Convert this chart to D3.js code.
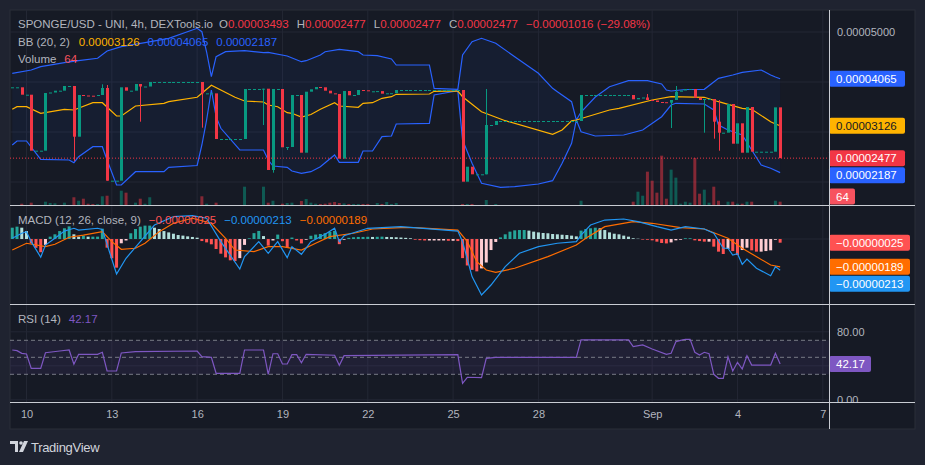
<!DOCTYPE html>
<html>
<head>
<meta charset="utf-8">
<script src="https://cdn.jsdelivr.net/npm/d3@7"></script>
<style>
  html, body { margin: 0; background: #1f2330; }
  svg { display: block; font-family: "Liberation Sans", Arial, sans-serif; }
</style>
</head>
<body>
<div id="chart"></div>
<script>
// prices are kept in units of 1e-8 USD, bars are 4h, index 0 = Aug 9 2023 12:00 UTC (t = -3)
const UNIT = 1e-8;
const T0 = -3;

const opens = [
  3894, 3894, 3894, 3746, 3746, 2626, 2626, 2626, 3780, 3790,
  3826, 3826, 3920, 3920, 2906, 3740, 3730, 3726, 3722, 3740,
  3880, 2026, 2026, 2026, 3894, 3826, 3826, 3960, 3910, 3910,
  4000, 4000, 4000, 4000, 4000, 4000, 4000, 4000, 4000, 4000,
  4000, 3773, 3773, 3773, 2860, 2860, 2860, 2860, 2860, 2860,
  3860, 3860, 3860, 3860, 3866, 2240, 3860, 3860, 2694, 2700,
  3740, 3740, 2586, 3806, 3854, 3900, 3894, 3826, 3773, 3760,
  2466, 3820, 3734, 3740, 3840, 3834, 3814, 3814, 3818, 3766,
  3774, 3776, 3840, 3840, 3840, 3840, 3840, 3840, 3840, 3840,
  3840, 3840, 3840, 3840, 3840, 3840, 2006, 2306, 2154, 2154,
  2154, 3140, 3140, 3220, 3220, 3220, 3220, 3220, 3220, 3220,
  3220, 3220, 3220, 3220, 3220, 3220, 3220, 3220, 3220, 3220,
  3220, 3740, 3740, 3740, 3740, 3740, 3740, 3740, 3740, 3740,
  3740, 3740, 3654, 3680, 3690, 3640, 3630, 3600, 3596, 3586,
  3640, 3806, 3830, 3860, 3860, 3686, 3640, 3660, 3660, 3206,
  2986, 2986, 3560, 2766, 3174, 2586, 3500, 2606, 2606, 2606,
  2606, 2606, 3493
];
const closes = [
  3894, 3894, 3746, 3746, 2626, 2626, 2626, 3780, 3790, 3826,
  3826, 3920, 3920, 2906, 3740, 3730, 3726, 3722, 3740, 3880,
  2026, 2026, 2026, 3894, 3826, 3826, 3960, 3910, 3910, 4000,
  4000, 4000, 4000, 4000, 4000, 4000, 4000, 4000, 4000, 4000,
  3773, 3773, 3773, 2860, 2860, 2860, 2860, 2860, 2860, 3860,
  3860, 3860, 3860, 3866, 2240, 3860, 3860, 2694, 2700, 3740,
  3740, 2586, 3806, 3854, 3900, 3894, 3826, 3773, 3760, 2466,
  3820, 3734, 3740, 3840, 3834, 3814, 3814, 3818, 3766, 3774,
  3776, 3840, 3840, 3840, 3840, 3840, 3840, 3840, 3840, 3840,
  3840, 3840, 3840, 3840, 3840, 2006, 2306, 2154, 2154, 2154,
  3140, 3140, 3220, 3220, 3220, 3220, 3220, 3220, 3220, 3220,
  3220, 3220, 3220, 3220, 3220, 3220, 3220, 3220, 3220, 3220,
  3740, 3740, 3740, 3740, 3740, 3740, 3740, 3740, 3740, 3740,
  3740, 3654, 3680, 3690, 3640, 3630, 3600, 3596, 3586, 3640,
  3806, 3830, 3860, 3860, 3686, 3640, 3660, 3660, 3206, 2986,
  2986, 3560, 2766, 3174, 2586, 3500, 2606, 2606, 2606, 2606,
  2606, 3493, 2477
];
// [t, high, low] for bars with visible wicks
const wicks = [
  [10, 3920, 2420], [16, 3954, 3740], [17, 3940, 2026], [24, 3960, 3206],
  [37, 4000, 3086], [50, 3866, 3140], [52, 3860, 2186], [55, 2700, 2640],
  [97, 3860, 2154], [131, 3760, 3640], [136, 3640, 3080], [137, 3920, 3640],
  [143, 3660, 2986], [145, 3660, 2866], [146, 3640, 2626]
];
const volumes = [
  0, 0, 25, 0, 45, 0, 0, 64, 39, 33,
  0, 45, 0, 150, 83, 122, 25, 20, 20, 169,
  180, 0, 0, 277, 239, 0, 45, 122, 25, 150,
  0, 0, 0, 0, 0, 0, 0, 0, 0, 0,
  169, 25, 0, 45, 0, 0, 0, 0, 0, 355,
  0, 0, 0, 355, 45, 83, 0, 25, 39, 45,
  0, 78, 116, 45, 25, 20, 25, 45, 58, 39,
  30, 20, 20, 20, 20, 20, 0, 39, 20, 58,
  20, 39, 0, 0, 0, 0, 0, 0, 0, 0,
  0, 0, 0, 0, 0, 20, 20, 20, 0, 0,
  97, 0, 20, 0, 0, 0, 0, 0, 0, 0,
  0, 0, 0, 0, 0, 0, 0, 0, 0, 0,
  83, 0, 0, 0, 0, 0, 0, 0, 0, 0,
  0, 64, 258, 180, 646, 471, 239, 956, 122, 685,
  530, 25, 64, 45, 912, 219, 297, 45, 355, 83,
  0, 64, 64, 25, 25, 64, 64, 0, 0, 0,
  0, 83, 64
];
// Bollinger bands (20, 2), read as [t, price]
const bbUpper = [
  [-3, 4174], [1, 4240], [3, 4306], [8, 4386], [11, 4426], [15, 4474], [17, 4620],
  [20, 4706], [25, 4786], [30, 4874], [36, 5074], [37, 5006], [38, 4600], [39, 4106],
  [40, 4506], [42, 4606], [46, 4626], [50, 4586], [51, 4594], [55, 4520], [58, 4406],
  [59, 4426], [62, 4540], [63, 4606], [66, 4654], [70, 4606], [71, 4540], [74, 4526],
  [77, 4460], [78, 4340], [85, 4340], [86, 3874], [91, 3854], [92, 4540], [94, 4806],
  [96, 4874], [99, 4774], [103, 4506], [108, 4174], [111, 3874], [112, 3806],
  [115, 3606], [116, 3240], [117, 3400], [120, 3700], [123, 3906], [127, 4026],
  [131, 4026], [134, 3960], [135, 3840], [136, 3820], [139, 3850], [143, 3854],
  [146, 4074], [149, 4140], [151, 4194], [155, 4240], [157, 4140], [158, 4100], [159, 4065]
];
const bbBasis = [
  [-3, 3454], [-2, 3506], [0, 3506], [3, 3374], [8, 3454], [10, 3440], [14, 3586],
  [16, 3586], [19, 3320], [20, 3320], [23, 3520], [29, 3574], [30, 3606], [36, 3694],
  [37, 3774], [39, 3934], [44, 3694], [46, 3620], [50, 3600], [51, 3540], [53, 3506],
  [55, 3386], [56, 3374], [58, 3300], [60, 3350], [62, 3454], [65, 3586], [66, 3520],
  [70, 3494], [71, 3574], [73, 3586], [75, 3674], [77, 3706], [78, 3754], [85, 3760],
  [86, 3814], [91, 3820], [92, 3706], [96, 3406], [101, 3226], [111, 2954], [113, 3040],
  [115, 3226], [116, 3240], [123, 3440], [125, 3474], [132, 3640], [136, 3706],
  [143, 3694], [146, 3606], [151, 3474], [153, 3454], [157, 3206], [158, 3160], [159, 3126]
];
const bbLower = [
  [-3, 2740], [-2, 2820], [0, 2820], [3, 2454], [9, 2440], [10, 2386], [11, 2506],
  [14, 2706], [16, 2706], [17, 2440], [19, 1940], [20, 1940], [23, 2206], [29, 2206],
  [30, 2294], [36, 2330], [37, 2740], [38, 3240], [39, 3840], [40, 3306], [41, 3074],
  [45, 2640], [50, 2640], [51, 2440], [52, 2320], [55, 2294], [56, 2220], [58, 2174],
  [60, 2206], [62, 2306], [65, 2540], [66, 2394], [70, 2394], [71, 2620], [73, 2620],
  [75, 2906], [77, 2920], [78, 3160], [85, 3174], [86, 3740], [91, 3826], [92, 2840],
  [94, 2374], [96, 1974], [100, 1894], [103, 1906], [108, 1960], [111, 2026],
  [113, 2374], [115, 2774], [116, 3240], [117, 3006], [120, 2920], [126, 2940],
  [130, 3040], [134, 3306], [136, 3540], [137, 3574], [143, 3560], [145, 3440],
  [146, 3140], [148, 3040], [151, 2940], [153, 2640], [155, 2340], [157, 2274], [159, 2187]
];
// MACD (12, 26, close, 9), units of 1e-8
const macdLine = [
  [-3, 5], [-1, 39], [0, 50], [1, -18], [3, -124], [4, -41], [6, 5], [8, 54], [10, 73],
  [11, 61], [15, 73], [16, 65], [19, -238], [21, -131], [24, -18], [27, 95], [31, 152],
  [35, 159], [38, 141], [41, -18], [45, -204], [46, -120], [49, -18], [51, -97], [53, -18],
  [55, -127], [56, -52], [58, -104], [60, -18], [63, 32], [65, 73], [66, -18], [67, 22],
  [72, 73], [79, 84], [91, 54], [92, -18], [94, -256], [96, -381], [98, -313], [101, -188],
  [104, -97], [108, -52], [112, -29], [116, -18], [117, 27], [119, 95], [122, 129],
  [126, 136], [129, 118], [133, 84], [136, 61], [139, 84], [143, 68], [145, 39],
  [147, -63], [148, -63], [149, -109], [150, -100], [151, -172], [152, -136], [154, -199],
  [157, -250], [158, -188], [159, -213]
];
const signalLine = [
  [-3, -75], [0, -29], [4, -52], [6, -36], [9, 12], [12, 27], [16, 50], [18, -18],
  [20, -70], [23, -63], [25, -29], [28, 50], [31, 107], [35, 141], [39, 107], [42, 5],
  [44, -75], [48, -86], [51, -52], [54, -52], [58, -75], [61, -29], [64, 16], [69, 39],
  [73, 68], [79, 77], [82, 77], [91, 61], [93, -18], [95, -154], [97, -211], [99, -227],
  [103, -199], [110, -120], [116, -41], [118, 5], [122, 84], [128, 118], [132, 107],
  [138, 77], [143, 68], [148, 5], [151, -63], [157, -177], [159, -189]
];
const histogram = [
  77, 84, 77, 54, -30, -60, -90, -40, 16, 32,
  54, 73, 86, 32, 16, 23, 16, 16, 16, 70,
  -59, -131, -195, -29, -10, 39, 68, 84, 91, 91,
  77, 68, 54, 45, 36, 27, 23, 18, 14, 9,
  -14, -23, -36, -68, -100, -125, -145, -150, -130, -40,
  5, 40, 55, 20, -45, -10, 30, -15, -60, 10,
  -10, -30, -5, 22, 30, 34, 40, 48, 55, -35,
  -5, 8, 12, 14, 14, 15, 14, 15, 16, 14,
  13, 12, 10, 8, 5, -5, -8, -10, -10, -10,
  -10, -10, -12, -12, -14, -130, -180, -210, -220, -200,
  -160, -75, -20, 11, 32, 50, 59, 61, 61, 57,
  50, 45, 41, 39, 34, 32, 29, 27, 23, 18,
  57, 68, 73, 77, 73, 61, 45, 36, 32, 23,
  16, 5, 2, -4, -5, -9, -18, -27, -30, -23,
  -9, -5, 5, 5, -9, -14, -18, -18, -52, -86,
  -102, -68, -82, -109, -75, -59, -77, -86, -86, -82,
  -77, -5, -25
];
// RSI (14)
const rsiLine = [
  [-3, 58.6], [-2, 57.8], [-1, 54.7], [0, 53.9], [1, 37], [3, 37], [4, 55.4], [7, 57.4],
  [9, 58.6], [10, 41.8], [11, 53.5], [15, 53.5], [16, 55.9], [17, 33.9], [19, 33.9],
  [20, 55.1], [23, 56.6], [36, 57.4], [37, 50.7], [39, 50], [40, 31.2], [45, 31.2],
  [46, 58.6], [50, 58.6], [51, 30], [52, 54.2], [53, 54.2], [54, 42.1], [55, 42.1],
  [56, 53.1], [57, 53.1], [58, 43.6], [59, 53.5], [65, 52.4], [66, 40.6], [67, 51.9],
  [91, 53.1], [92, 19.4], [93, 26.5], [96, 26], [97, 48.8], [99, 50], [116, 50],
  [117, 70.4], [127, 70.4], [128, 62.5], [130, 64.5], [132, 59.8], [135, 53.5],
  [136, 54.7], [137, 68.4], [138, 70], [139, 71.2], [140, 71.2], [141, 55.9], [142, 52.7],
  [143, 55.9], [144, 54.2], [145, 30], [146, 25.3], [147, 25.3], [148, 50.7], [149, 33.9],
  [150, 44.1], [151, 36.2], [152, 51.9], [153, 40.9], [157, 40.9], [158, 54.7], [159, 42.17]
];

const priceTicks = [2000, 3000, 4000, 5000];
const rsiTicks = [0, 40, 80];
const rsiLevels = [70, 50, 30];
const dayTicks = [
  Date.UTC(2023, 7, 10), Date.UTC(2023, 7, 13), Date.UTC(2023, 7, 16), Date.UTC(2023, 7, 19),
  Date.UTC(2023, 7, 22), Date.UTC(2023, 7, 25), Date.UTC(2023, 7, 28), Date.UTC(2023, 8, 1),
  Date.UTC(2023, 8, 4), Date.UTC(2023, 8, 7)
];
const dayLabels = ["10", "13", "16", "19", "22", "25", "28", "Sep", "4", "7"];

const titleLegend = [
  ["SPONGE/USD - UNI, 4h, DEXTools.io", "gray", 0],
  ["O", "gray", 6], ["0.00003493", "red", 0],
  ["H", "gray", 8], ["0.00002477", "red", 0],
  ["L", "gray", 8], ["0.00002477", "red", 0],
  ["C", "gray", 8], ["0.00002477", "red", 0],
  ["\u22120.00001016 (\u221229.08%)", "red", 8]
];

const C = {
  outer: "#1f2330", pane: "#161a25", grid: "#232734", sep: "#c9ccd3",
  text: "#b2b5be", up: "#089981", down: "#f23645",
  volUp: "rgba(8,153,129,0.5)", volDown: "rgba(242,54,69,0.5)",
  bb: "#2962ff", basis: "#ffb300", macd: "#2196f3", signal: "#ff6d00",
  rsi: "#7e57c2"
};
const legendColor = { gray: C.text, red: C.down };

const W = 925, H = 465;
const left = 10, plotRight = 829, right = 915;
const mainTop = 10, mainBottom = 205, macdBottom = 304, rsiBottom = 402, frameBottom = 429;

const barTime = t => new Date(Date.UTC(2023, 7, 10) + t * 4 * 3600e3);

const x = d3.scaleUtc()
  .domain([Date.UTC(2023, 7, 10), Date.UTC(2023, 8, 7)])
  .range([26.5, 822.8]);
const yPrice = d3.scaleLinear().domain([2000, 5000]).range([182, 32]);
const yVol = d3.scaleLinear().domain([0, 1000]).range([mainBottom, 153.4]);
const yMacd = d3.scaleLinear().domain([-400, 230]).range([297.8, 205.2]);
const yRsi = d3.scaleLinear().domain([0, 100]).range([399.8, 314.8]);

const svg = d3.select("#chart").append("svg")
  .attr("width", W).attr("height", H)
  .style("background", C.outer);

svg.append("rect")
  .attr("x", left).attr("y", mainTop)
  .attr("width", right - left).attr("height", frameBottom - mainTop)
  .attr("fill", C.pane).attr("stroke", "#2a2e39");

const defs = svg.append("defs");
function clip(id, y0, y1) {
  defs.append("clipPath").attr("id", id)
    .append("rect").attr("x", left).attr("y", y0)
    .attr("width", plotRight - left).attr("height", y1 - y0);
  return svg.append("g").attr("clip-path", `url(#${id})`);
}
const gMain = clip("clipMain", mainTop, mainBottom);
const gMacd = clip("clipMacd", mainBottom, macdBottom);
const gRsi = clip("clipRsi", macdBottom, rsiBottom);

// grids
[[gMain, mainTop, mainBottom], [gMacd, mainBottom, macdBottom], [gRsi, macdBottom, rsiBottom]]
  .forEach(([g, y0, y1]) => {
    g.selectAll(null).data(dayTicks).join("line")
      .attr("x1", d => x(d)).attr("x2", d => x(d))
      .attr("y1", y0).attr("y2", y1)
      .attr("stroke", C.grid);
  });
gMain.selectAll(null).data(priceTicks).join("line")
  .attr("x1", left).attr("x2", plotRight)
  .attr("y1", d => yPrice(d)).attr("y2", d => yPrice(d))
  .attr("stroke", C.grid);
gMacd.append("line")
  .attr("x1", left).attr("x2", plotRight)
  .attr("y1", yMacd(0)).attr("y2", yMacd(0))
  .attr("stroke", C.grid);
gRsi.selectAll(null).data(rsiTicks).join("line")
  .attr("x1", left).attr("x2", plotRight)
  .attr("y1", d => yRsi(d)).attr("y2", d => yRsi(d))
  .attr("stroke", C.grid);

// bars
const wickMap = new Map(wicks.map(d => [d[0], d]));
const bars = opens.map((o, i) => {
  const t = i + T0, c = closes[i], w = wickMap.get(t);
  return {
    t, o, c, vol: volumes[i], hist: histogram[i],
    hi: w ? Math.max(w[1], o, c) : Math.max(o, c),
    lo: w ? Math.min(w[2], o, c) : Math.min(o, c),
    up: c >= o
  };
});

// volume overlay
gMain.selectAll(null).data(bars.filter(d => d.vol > 0)).join("rect")
  .attr("x", d => x(barTime(d.t)) - 1.5).attr("width", 3)
  .attr("y", d => yVol(d.vol)).attr("height", d => yVol(0) - yVol(d.vol))
  .attr("fill", d => d.up ? C.volUp : C.volDown);

// bollinger bands
const pt = d => [x(barTime(d[0])), yPrice(d[1])];
gMain.append("path")
  .attr("d", d3.line()(bbUpper.map(pt).concat(bbLower.slice().reverse().map(pt))) + "Z")
  .attr("fill", "rgba(41,98,255,0.06)");
[[bbUpper, C.bb], [bbLower, C.bb], [bbBasis, C.basis]].forEach(([data, col]) => {
  gMain.append("path").attr("d", d3.line()(data.map(pt)))
    .attr("fill", "none").attr("stroke", col).attr("stroke-width", 1.2);
});

// candles
const candle = gMain.selectAll(null).data(bars).join("g")
  .attr("fill", d => d.up ? C.up : C.down)
  .attr("stroke", d => d.up ? C.up : C.down);
candle.filter(d => d.hi > Math.max(d.o, d.c) || d.lo < Math.min(d.o, d.c))
  .append("line")
  .attr("x1", d => Math.round(x(barTime(d.t))) + 0.5).attr("x2", d => Math.round(x(barTime(d.t))) + 0.5)
  .attr("y1", d => yPrice(d.hi)).attr("y2", d => yPrice(d.lo));
candle.append("rect")
  .attr("stroke", "none")
  .attr("x", d => Math.round(x(barTime(d.t))) - 1).attr("width", 3)
  .attr("y", d => Math.min(yPrice(d.o), yPrice(d.c)))
  .attr("height", d => Math.max(1, Math.abs(yPrice(d.o) - yPrice(d.c))));

// last price line
const last = bars[bars.length - 1];
gMain.append("line")
  .attr("x1", left).attr("x2", plotRight)
  .attr("y1", yPrice(last.c)).attr("y2", yPrice(last.c))
  .attr("stroke", C.down).attr("stroke-dasharray", "1,2");

// MACD pane
gMacd.selectAll(null).data(bars).join("rect")
  .attr("x", d => x(barTime(d.t)) - 1.5).attr("width", 3)
  .attr("y", d => Math.min(yMacd(0), yMacd(d.hist)))
  .attr("height", d => Math.abs(yMacd(d.hist) - yMacd(0)))
  .attr("fill", (d, i) => {
    const prev = i > 0 ? bars[i - 1].hist : d.hist;
    if (d.hist >= 0) return d.hist >= prev ? "#26a69a" : "#b2dfdb";
    return d.hist < prev ? "#ff5252" : "#ffcdd2";
  });
const mpt = d => [x(barTime(d[0])), yMacd(d[1])];
gMacd.append("path").attr("d", d3.line()(signalLine.map(mpt)))
  .attr("fill", "none").attr("stroke", C.signal).attr("stroke-width", 1.2);
gMacd.append("path").attr("d", d3.line()(macdLine.map(mpt)))
  .attr("fill", "none").attr("stroke", C.macd).attr("stroke-width", 1.2);

// RSI pane
gRsi.append("rect")
  .attr("x", left).attr("width", plotRight - left)
  .attr("y", yRsi(70)).attr("height", yRsi(30) - yRsi(70))
  .attr("fill", "rgba(126,87,194,0.1)");
gRsi.selectAll(null).data(rsiLevels).join("line")
  .attr("x1", left).attr("x2", plotRight)
  .attr("y1", d => yRsi(d)).attr("y2", d => yRsi(d))
  .attr("stroke", "#787b86").attr("stroke-dasharray", "4,3");
gRsi.append("path")
  .attr("d", d3.line()(rsiLine.map(d => [x(barTime(d[0])), yRsi(d[1])])))
  .attr("fill", "none").attr("stroke", C.rsi).attr("stroke-width", 1.2);

// value tags on the axis (positions first, so tick labels under them can be skipped)
const bbLast = a => a[a.length - 1][1];
const histLast = histogram[histogram.length - 1];
const sigLast = signalLine[signalLine.length - 1][1];
const macdLast = macdLine[macdLine.length - 1][1];
const rsiLast = rsiLine[rsiLine.length - 1][1];
const fmtP = v => (v * UNIT).toFixed(8);
const fmtM = v => "\u2212" + (Math.abs(v) * UNIT).toFixed(8);
const yLast = yPrice(last.c);
const tags = [
  [yPrice(bbLast(bbUpper)), fmtP(bbLast(bbUpper)), C.bb, "#fff", 76],
  [yPrice(bbLast(bbBasis)), fmtP(bbLast(bbBasis)), C.basis, "#131722", 76],
  [yLast, fmtP(last.c), C.down, "#fff", 76],
  [Math.max(yPrice(bbLast(bbLower)), yLast + 17), fmtP(bbLast(bbLower)), C.bb, "#fff", 76],
  [Math.min(yVol(last.vol), mainBottom - 8.5), String(last.vol), "#f7525f", "#fff", 26],
  [yMacd(histLast), fmtM(histLast), "#ff5252", "#fff", 81],
  [yMacd(sigLast), fmtM(sigLast), C.signal, "#fff", 81],
  [Math.max(yMacd(macdLast), yMacd(sigLast) + 17), fmtM(macdLast), C.macd, "#fff", 81],
  [yRsi(rsiLast), rsiLast.toFixed(2), C.rsi, "#fff", 42]
];
const free = y => tags.every(tg => Math.abs(tg[0] - y) > 13);

// price axis ticks
const axisText = (g, y, txt) => g.append("text")
  .attr("x", plotRight + 8).attr("y", y).attr("dy", "0.35em")
  .attr("font-size", 11).attr("fill", C.text).text(txt);
priceTicks.filter(d => free(yPrice(d))).forEach(d => axisText(svg, yPrice(d), fmtP(d)));
defs.append("clipPath").attr("id", "clipRsiAx")
  .append("rect").attr("x", plotRight).attr("y", macdBottom)
  .attr("width", right - plotRight).attr("height", rsiBottom - macdBottom);
const rsiAxis = svg.append("g").attr("clip-path", "url(#clipRsiAx)");
rsiTicks.filter(d => free(yRsi(d))).forEach(d => axisText(rsiAxis, yRsi(d), d.toFixed(2)));

tags.forEach(([y, txt, bg, fg, w]) => {
  svg.append("rect").attr("x", plotRight).attr("y", y - 8)
    .attr("width", w).attr("height", 16).attr("rx", 2).attr("fill", bg);
  svg.append("text").attr("x", plotRight + 7).attr("y", y).attr("dy", "0.36em")
    .attr("font-size", 11.5).attr("fill", fg).text(txt);
});

// time axis
const xAxis = svg.append("g")
  .attr("transform", `translate(0,${rsiBottom})`)
  .call(d3.axisBottom(x).tickValues(dayTicks.map(d => new Date(d)))
    .tickFormat((d, i) => dayLabels[i]).tickSize(0).tickPadding(8));
xAxis.select(".domain").remove();
xAxis.selectAll("text").attr("fill", C.text).attr("font-size", 11)
  .attr("font-family", "\"Liberation Sans\", Arial, sans-serif");

// pane separators
[mainBottom, macdBottom, rsiBottom].forEach(y => svg.append("line")
  .attr("x1", left).attr("x2", right).attr("y1", y + 0.5).attr("y2", y + 0.5)
  .attr("stroke", C.sep));
svg.append("line")
  .attr("x1", plotRight + 0.5).attr("x2", plotRight + 0.5)
  .attr("y1", mainTop).attr("y2", frameBottom)
  .attr("stroke", C.sep);

// legends
function legend(y, items) {
  let xx = 18;
  items.forEach(([txt, col, gap]) => {
    xx += gap;
    const t = svg.append("text").attr("x", xx).attr("y", y).attr("dy", "0.35em")
      .attr("font-size", 11.5).attr("fill", legendColor[col] || col).text(txt);
    xx += t.node().getComputedTextLength();
  });
}
legend(24, titleLegend);
legend(42, [
  ["BB (20, 2)", C.text, 0],
  [fmtP(bbLast(bbBasis)), C.basis, 9],
  [fmtP(bbLast(bbUpper)), C.bb, 8],
  [fmtP(bbLast(bbLower)), C.bb, 8]
]);
legend(59, [["Volume", C.text, 0], [String(last.vol), "#f7525f", 8]]);
legend(220, [
  ["MACD (12, 26, close, 9)", C.text, 0],
  [fmtM(histLast), "#ff5252", 8],
  [fmtM(macdLast), C.macd, 8],
  [fmtM(sigLast), C.signal, 8]
]);
legend(319, [["RSI (14)", C.text, 0], [rsiLast.toFixed(2), C.rsi, 8]]);

// footer logo
const logo = svg.append("g").attr("fill", "#d1d4dc");
logo.append("path").attr("d", "M10 441h8v11h-3v-8h-5z");
logo.append("circle").attr("cx", 21).attr("cy", 443).attr("r", 1.8);
logo.append("path").attr("d", "M24 441h4l-5 11h-4z");
svg.append("text").attr("x", 31).attr("y", 447).attr("dy", "0.35em")
  .attr("font-size", 13).attr("fill", "#d1d4dc").attr("letter-spacing", -0.3)
  .text("TradingView");
</script>
</body>
</html>
